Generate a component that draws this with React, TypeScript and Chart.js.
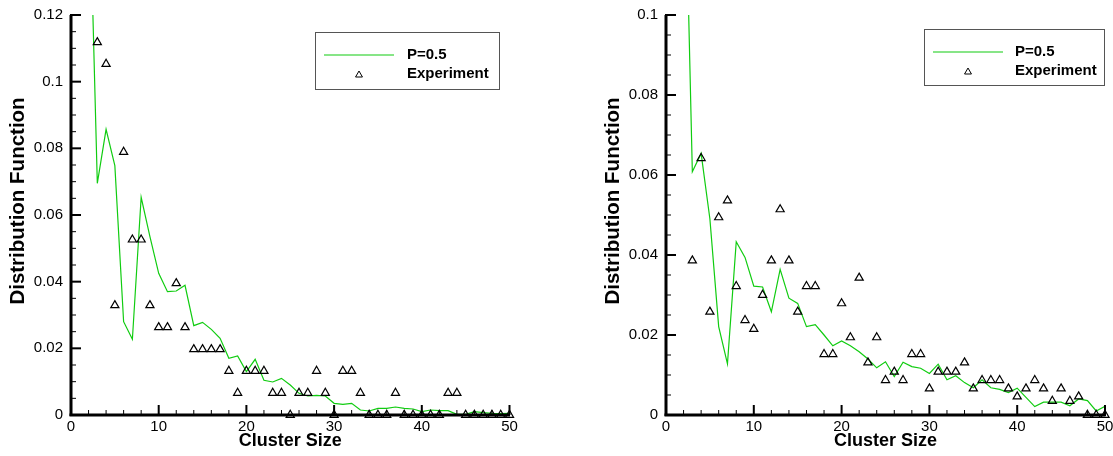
import React, { useEffect, useRef } from 'react';
import { Chart, registerables } from 'chart.js';

Chart.register(...registerables);

// ---------- data ----------
const modelSizes = [2, 3, 4, 5, 6, 7, 8, 9, 10, 11, 12, 13, 14, 15, 16, 17, 18, 19, 20, 21, 22, 23, 24, 25, 26, 27, 28, 29, 30, 31, 32, 33, 34, 35, 36, 37, 38, 39, 40, 41, 42, 43, 44, 45, 46, 47, 48, 49, 50];
const expSizes = [3, 4, 5, 6, 7, 8, 9, 10, 11, 12, 13, 14, 15, 16, 17, 18, 19, 20, 21, 22, 23, 24, 25, 26, 27, 28, 29, 30, 31, 32, 33, 34, 35, 36, 37, 38, 39, 40, 41, 42, 43, 44, 45, 46, 47, 48, 49, 50];

const leftModel = [0.17, 0.0695, 0.0857, 0.0748, 0.028, 0.0227, 0.0653, 0.0535, 0.0425, 0.037, 0.0372, 0.0389, 0.0268, 0.0278, 0.0257, 0.023, 0.017, 0.0177, 0.013, 0.0167, 0.0104, 0.0099, 0.011, 0.009, 0.0065, 0.0057, 0.0059, 0.0057, 0.0035, 0.0032, 0.0035, 0.0015, 0.0012, 0.002, 0.002, 0.0024, 0.002, 0.0018, 0.001, 0.0015, 0.0013, 0.0013, 0.0002, 0.0002, 0.001, 0.0007, 0.0005, 0.0004, 0.0005];
const leftExp = [0.1118, 0.1053, 0.0329, 0.0789, 0.0526, 0.0526, 0.0329, 0.0263, 0.0263, 0.0395, 0.0263, 0.0197, 0.0197, 0.0197, 0.0197, 0.0132, 0.0066, 0.0132, 0.0132, 0.0132, 0.0066, 0.0066, 0, 0.0066, 0.0066, 0.0132, 0.0066, 0, 0.0132, 0.0132, 0.0066, 0, 0, 0, 0.0066, 0, 0, 0, 0, 0, 0.0066, 0.0066, 0, 0, 0, 0, 0, 0];

const rightModel = [0.155, 0.0608, 0.0654, 0.049, 0.0221, 0.0128, 0.0433, 0.0394, 0.0322, 0.032, 0.0258, 0.0364, 0.0292, 0.0279, 0.0221, 0.0226, 0.02, 0.0173, 0.0185, 0.0173, 0.0158, 0.014, 0.0118, 0.0133, 0.0096, 0.0132, 0.0121, 0.0117, 0.0104, 0.0127, 0.0088, 0.0098, 0.0081, 0.0068, 0.0088, 0.0068, 0.0064, 0.0056, 0.0067, 0.0044, 0.0021, 0.0032, 0.0032, 0.0032, 0.0023, 0.004, 0.0036, 0.001, 0.0022];
const rightExp = [0.0386, 0.0642, 0.0258, 0.0494, 0.0536, 0.0322, 0.0237, 0.0215, 0.03, 0.0386, 0.0514, 0.0386, 0.0258, 0.0322, 0.0322, 0.0152, 0.0152, 0.0279, 0.0194, 0.0343, 0.0131, 0.0194, 0.0087, 0.0108, 0.0087, 0.0152, 0.0152, 0.0066, 0.0108, 0.0108, 0.0108, 0.0131, 0.0066, 0.0087, 0.0087, 0.0087, 0.0066, 0.0046, 0.0066, 0.0087, 0.0066, 0.0035, 0.0066, 0.0035, 0.0046, 0, 0, 0];

const seriesNames = ['P=0.5', 'Experiment'];
const xTitle = 'Cluster Size';
const yTitle = 'Distribution Function';
const xMax = 50;
const leftYMax = 0.12;
const rightYMax = 0.1;
const xMajorStep = 10;
const xMinorStep = 2;
const yMajorStep = 0.02;
const yMinorStep = 0.005;

// ---------- styling ----------
const FONT = '"Liberation Sans", Arial, Helvetica, sans-serif';
const GREEN = '#10cc10';
const AXIS = '#000000';

function drawTriangle(ctx: CanvasRenderingContext2D, cx: number, cy: number, r: number) {
  ctx.beginPath();
  for (let k = 0; k < 3; k++) {
    const a = (k * 2 * Math.PI) / 3;
    const px = cx + Math.sin(a) * r;
    const py = cy - Math.cos(a) * r;
    if (k === 0) ctx.moveTo(px, py); else ctx.lineTo(px, py);
  }
  ctx.closePath();
  ctx.stroke();
}

function makeTecPlugin(yMax: number, legend: any) {
  return {
    id: 'tec',
    afterDraw(chart: any) {
      const ctx: CanvasRenderingContext2D = chart.ctx;
      const xs = chart.scales.x;
      const ys = chart.scales.y;
      const L = Number(xs.getPixelForValue(0));
      const R = Number(xs.getPixelForValue(xMax));
      const B = Number(ys.getPixelForValue(0));
      const T = Number(ys.getPixelForValue(yMax));
      ctx.save();
      ctx.globalAlpha = 1;
      ctx.globalCompositeOperation = 'source-over';
      ctx.fillStyle = AXIS;
      // x ticks (inward)
      const nx = Math.round(xMax / xMinorStep);
      for (let i = 0; i <= nx; i++) {
        const v = i * xMinorStep;
        const major = Math.abs(v / xMajorStep - Math.round(v / xMajorStep)) < 1e-6;
        const px = xs.getPixelForValue(v);
        if (major) ctx.fillRect(px - 1, B - 10, 2, 10);
        else ctx.fillRect(px - 0.5, B - 5, 1, 5);
      }
      // y ticks (inward)
      const ny = Math.round(yMax / yMinorStep);
      for (let i = 0; i <= ny; i++) {
        const v = i * yMinorStep;
        const major = Math.abs(v / yMajorStep - Math.round(v / yMajorStep)) < 1e-6;
        const py = ys.getPixelForValue(v);
        if (major) ctx.fillRect(L, py - 1, 10, 2);
        else ctx.fillRect(L, py - 0.5, 5, 1);
      }
      // axis lines
      ctx.fillRect(L - 1.5, T, 3, B - T + 1);
      ctx.fillRect(L - 1.5, B - 1.5, R - L + 2, 3);
      ctx.fillStyle = '#000';

      // y title
      ctx.font = `bold 20.5px ${FONT}`;
      ctx.textAlign = 'center';
      ctx.textBaseline = 'middle';
      ctx.save();
      ctx.translate(legend.yTitleX, legend.yTitleY);
      ctx.rotate(-Math.PI / 2);
      ctx.fillText(yTitle, 0, 0);
      ctx.restore();

      // legend
      const lg = legend;
      ctx.lineWidth = 1;
      ctx.strokeStyle = '#555';
      ctx.strokeRect(lg.x + 0.5, lg.y + 0.5, lg.w, lg.h);
      ctx.strokeStyle = GREEN;
      ctx.lineWidth = 1.2;
      ctx.beginPath();
      ctx.moveTo(lg.x + lg.lineX0, lg.y + lg.row1);
      ctx.lineTo(lg.x + lg.lineX1, lg.y + lg.row1);
      ctx.stroke();
      ctx.strokeStyle = '#000';
      ctx.lineWidth = 1;
      drawTriangle(ctx, lg.x + lg.triX, lg.y + lg.row2 + 1, 4);
      ctx.fillStyle = '#000';
      ctx.font = `bold 15px ${FONT}`;
      ctx.textBaseline = 'middle';
      ctx.textAlign = 'left';
      ctx.fillText(seriesNames[0], lg.x + lg.textX, lg.y + lg.row1);
      ctx.fillText(seriesNames[1], lg.x + lg.textX, lg.y + lg.row2);
      ctx.restore();
    },
  };
}

const fmt = (v: number) => String(Number(Number(v).toFixed(4)));

function buildConfig(model: number[], exp: number[], yMax: number, padRight: number, legend: any) {
  return {
    type: 'line' as const,
    data: {
      datasets: [
        {
          label: seriesNames[1],
          data: expSizes.map((x, i) => ({ x, y: exp[i] })),
          showLine: false,
          pointStyle: 'triangle',
          pointRadius: 4.7,
          pointBorderWidth: 1.2,
          pointBorderColor: '#000',
          pointBackgroundColor: 'rgba(0,0,0,0)',
          borderColor: '#000',
          clip: false,
          order: 0,
        },
        {
          label: seriesNames[0],
          data: modelSizes.map((x, i) => ({ x, y: model[i] })),
          borderColor: GREEN,
          borderWidth: 1.2,
          pointRadius: 0,
          tension: 0,
          fill: false,
          order: 1,
        },
      ],
    },
    options: {
      responsive: false,
      animation: false,
      events: [],
      layout: { padding: { left: 0, top: 15, right: padRight, bottom: 0 } },
      plugins: {
        legend: { display: false },
        tooltip: { enabled: false },
      },
      scales: {
        x: {
          type: 'linear',
          min: 0,
          max: xMax,
          grid: { display: false, drawTicks: false },
          border: { display: true, color: '#000', width: 2 },
          ticks: {
            stepSize: xMajorStep,
            padding: 3,
            color: '#000',
            maxRotation: 0,
            autoSkip: false,
            font: { family: FONT, size: 15 },
            callback: (v: any) => fmt(v),
          },
          title: {
            display: true,
            text: xTitle,
            color: '#000',
            font: { family: FONT, size: 18, weight: 'bold' },
            padding: { top: 0, bottom: 4 },
          },
          afterFit(s: any) {
            s.height = 41;
            s.paddingLeft = 0;
            s.paddingRight = 0;
          },
        },
        y: {
          type: 'linear',
          min: 0,
          max: yMax,
          grid: { display: false, drawTicks: false },
          border: { display: true, color: '#000', width: 2 },
          ticks: {
            stepSize: yMajorStep,
            padding: 8,
            color: '#000',
            font: { family: FONT, size: 15 },
            callback: (v: any) => fmt(v),
          },
          title: { display: false },
          afterFit(s: any) {
            s.width = 71;
            s.paddingTop = 0;
            s.paddingBottom = 0;
          },
        },
      },
    },
    plugins: [makeTecPlugin(yMax, legend)],
  };
}

function ChartCanvas({ left, width, model, exp, yMax, padRight, legend }: any) {
  const ref = useRef<HTMLCanvasElement | null>(null);
  useEffect(() => {
    if (!ref.current) return;
    const chart = new Chart(ref.current, buildConfig(model, exp, yMax, padRight, legend) as any);
    return () => chart.destroy();
  }, []);
  return (
    <canvas
      ref={ref}
      width={width}
      height={456}
      style={{ position: 'absolute', left, top: 0, width, height: 456 }}
    />
  );
}

export default function App() {
  return (
    <div style={{ position: 'absolute', left: 0, top: 0, width: 1113, height: 456, background: '#fff', overflow: 'hidden' }}>
      <ChartCanvas
        left={0}
        width={556}
        model={leftModel}
        exp={leftExp}
        yMax={leftYMax}
        padRight={46.5}
        legend={{ x: 315, y: 32, w: 184, h: 57, lineX0: 9, lineX1: 79, textX: 92, triX: 44, row1: 23, row2: 42, yTitleX: 18.5, yTitleY: 201 }}
      />
      <ChartCanvas
        left={595}
        width={518}
        model={rightModel}
        exp={rightExp}
        yMax={rightYMax}
        padRight={8}
        legend={{ x: 329, y: 29, w: 180, h: 56, lineX0: 9, lineX1: 79, textX: 91, triX: 44, row1: 23, row2: 42, yTitleX: 18.5, yTitleY: 201 }}
      />
    </div>
  );
}
